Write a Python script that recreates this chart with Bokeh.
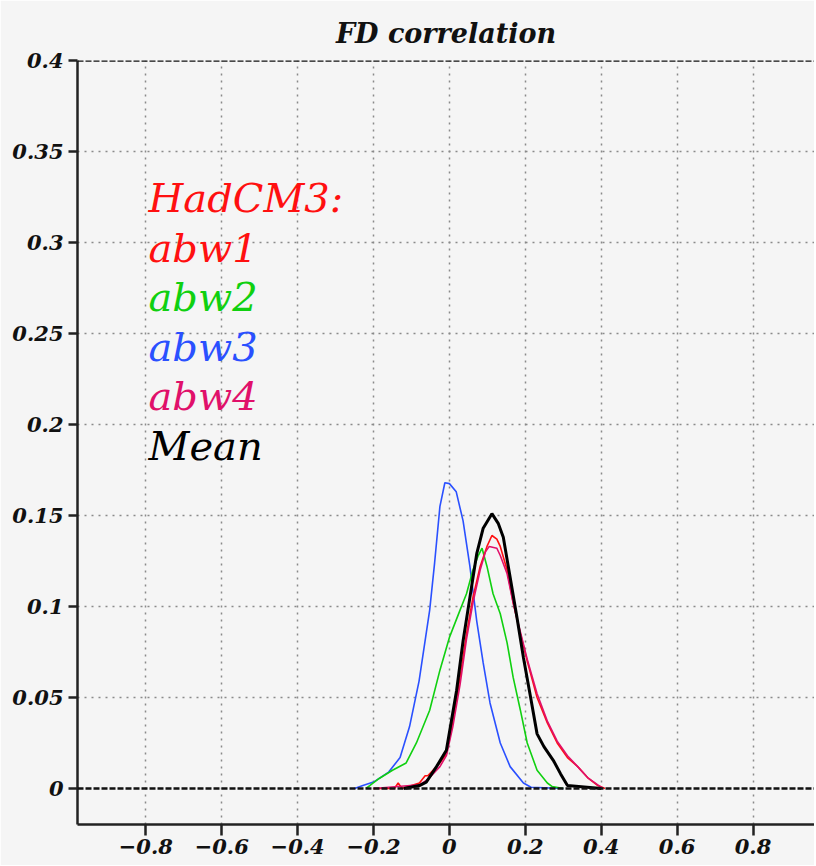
from bokeh.plotting import figure
from bokeh.models import Range1d, FixedTicker, Span, Label
from bokeh.embed import file_html
from bokeh.resources import INLINE

# ---- data ----
x_ticks = [-0.8, -0.6, -0.4, -0.2, 0, 0.2, 0.4, 0.6, 0.8]
x_tick_labels = ["\u22120.8", "\u22120.6", "\u22120.4", "\u22120.2", "0", "0.2", "0.4", "0.6", "0.8"]
y_ticks = [0, 0.05, 0.1, 0.15, 0.2, 0.25, 0.3, 0.35, 0.4]
y_tick_labels = ["0", "0.05", "0.1", "0.15", "0.2", "0.25", "0.3", "0.35", "0.4"]

abw1_x = [-0.2, -0.145, -0.135, -0.125, -0.079, -0.064, -0.057, -0.025, -0.008, 0.009, 0.028, 0.045,
          0.062, 0.081, 0.099, 0.112, 0.125, 0.134, 0.152, 0.168, 0.187, 0.205, 0.231, 0.258, 0.284,
          0.311, 0.338, 0.364, 0.391, 0.41]
abw1_y = [0, 0, 0.003, 0, 0.003, 0.007, 0.007, 0.014, 0.019, 0.037, 0.061, 0.085,
          0.105, 0.122, 0.133, 0.139, 0.137, 0.133, 0.12, 0.102, 0.085, 0.070, 0.050, 0.036, 0.025,
          0.017, 0.012, 0.006, 0.0016, 0]

abw2_x = [-0.22, -0.21, -0.185, -0.15, -0.114, -0.087, -0.052, -0.025, 0.0, 0.028, 0.045, 0.062,
          0.076, 0.086, 0.099, 0.115, 0.134, 0.152, 0.168, 0.187, 0.205, 0.231, 0.258, 0.271, 0.3]
abw2_y = [0, 0.0015, 0.0055, 0.010, 0.014, 0.025, 0.043, 0.065, 0.083, 0.098, 0.107, 0.12,
          0.128, 0.132, 0.122, 0.107, 0.096, 0.080, 0.061, 0.043, 0.025, 0.010, 0.003, 0.001, 0]

abw3_x = [-0.25, -0.228, -0.2, -0.16, -0.13, -0.105, -0.08, -0.052, -0.039, -0.025, -0.012, 0.0,
          0.018, 0.036, 0.054, 0.072, 0.089, 0.107, 0.134, 0.16, 0.195, 0.215, 0.3]
abw3_y = [0, 0.0016, 0.0035, 0.009, 0.017, 0.034, 0.059, 0.098, 0.124, 0.155, 0.168, 0.1675,
          0.163, 0.147, 0.122, 0.092, 0.069, 0.047, 0.025, 0.012, 0.003, 0.0007, 0]

abw4_x = [-0.2, -0.079, -0.057, -0.025, -0.008, 0.009, 0.028, 0.045, 0.062, 0.081, 0.095, 0.105,
          0.125, 0.134, 0.152, 0.168, 0.187, 0.205, 0.231, 0.258, 0.284, 0.311, 0.338, 0.364,
          0.391, 0.405]
abw4_y = [0, 0.002, 0.005, 0.012, 0.018, 0.034, 0.057, 0.082, 0.102, 0.12, 0.13, 0.133,
          0.132, 0.128, 0.118, 0.102, 0.086, 0.071, 0.052, 0.037, 0.026, 0.018, 0.012, 0.006,
          0.002, 0]

mean_x = [-0.12, -0.079, -0.061, -0.034, -0.008, 0.001, 0.019, 0.036, 0.054, 0.072, 0.089, 0.112,
          0.129, 0.142, 0.160, 0.178, 0.195, 0.214, 0.231, 0.249, 0.275, 0.293, 0.311, 0.4]
mean_y = [0, 0.0016, 0.0035, 0.012, 0.021, 0.032, 0.054, 0.081, 0.105, 0.129, 0.143, 0.151,
          0.1455, 0.138, 0.116, 0.094, 0.072, 0.050, 0.030, 0.023, 0.015, 0.008, 0.0016, 0]

legend_labels = ["HadCM3:", "abw1", "abw2", "abw3", "abw4", "Mean"]
legend_colors = ["#ff1010", "#ff1010", "#10d010", "#2a50ff", "#e0106a", "#000000"]

BG = "#f5f5f5"
FONT = "DejaVu Serif"

p = figure(
    output_backend="svg", toolbar_location=None,
    frame_width=737, frame_height=764,
    x_range=Range1d(-0.98, 0.962), y_range=Range1d(-0.0198, 0.4),
    min_border_left=77, min_border_right=0, min_border_top=60, min_border_bottom=41,
    background_fill_color=BG, border_fill_color=BG,
    title="FD correlation",
)
p.outline_line_color = None
p.title.align = "center"
p.title.text_font = FONT
p.title.text_font_style = "bold italic"
p.title.text_font_size = "27px"
p.title.text_color = "#111111"
p.title.standoff = 23

# axes
for ax in (p.xaxis[0], p.yaxis[0]):
    ax.axis_line_color = "#222222"
    ax.axis_line_width = 2.5
    ax.major_tick_line_color = "#222222"
    ax.major_tick_line_width = 2.5
    ax.major_tick_in = 0
    ax.minor_tick_line_color = None
    ax.major_label_text_font = FONT
    ax.major_label_text_font_style = "bold italic"
    ax.major_label_text_font_size = "21px"
    ax.major_label_text_color = "#111111"

p.xaxis.ticker = FixedTicker(ticks=x_ticks)
p.xaxis.major_label_overrides = {t: l for t, l in zip(x_ticks, x_tick_labels)}
p.xaxis.major_tick_out = 11
p.xaxis.major_label_standoff = 3

p.yaxis.ticker = FixedTicker(ticks=y_ticks)
p.yaxis.major_label_overrides = {t: l for t, l in zip(y_ticks, y_tick_labels)}
p.yaxis.major_tick_out = 9
p.yaxis.major_label_standoff = 5

# grids
p.xgrid.ticker = FixedTicker(ticks=x_ticks)
p.ygrid.ticker = FixedTicker(ticks=y_ticks[1:-1])
for g in (p.xgrid[0], p.ygrid[0]):
    g.grid_line_color = "#8a8a8a"
    g.grid_line_dash = "2 5"
    g.grid_line_width = 1.5

for loc in (y_ticks[0], y_ticks[-1]):
    p.add_layout(Span(location=loc, dimension="width", line_color="#111111",
                      line_dash="6 2", line_width=2.5))

# curves
p.line(abw3_x, abw3_y, line_color=legend_colors[3], line_width=1.6)
p.line(abw2_x, abw2_y, line_color=legend_colors[2], line_width=1.6)
p.line(abw1_x, abw1_y, line_color=legend_colors[1], line_width=1.6)
p.line(abw4_x, abw4_y, line_color=legend_colors[4], line_width=1.6)
p.line(mean_x, mean_y, line_color=legend_colors[5], line_width=3)

# legend text
leg_x = -0.793
leg_y0 = 0.3242
leg_dy = 0.0272
for i, (txt, col) in enumerate(zip(legend_labels, legend_colors)):
    p.add_layout(Label(x=leg_x, y=leg_y0 - i * leg_dy, text=txt, text_color=col,
                       text_font=FONT, text_font_style="italic", text_font_size="40px",
                       text_baseline="alphabetic", text_align="left"))

open("out.html", "w").write(file_html(p, INLINE))
